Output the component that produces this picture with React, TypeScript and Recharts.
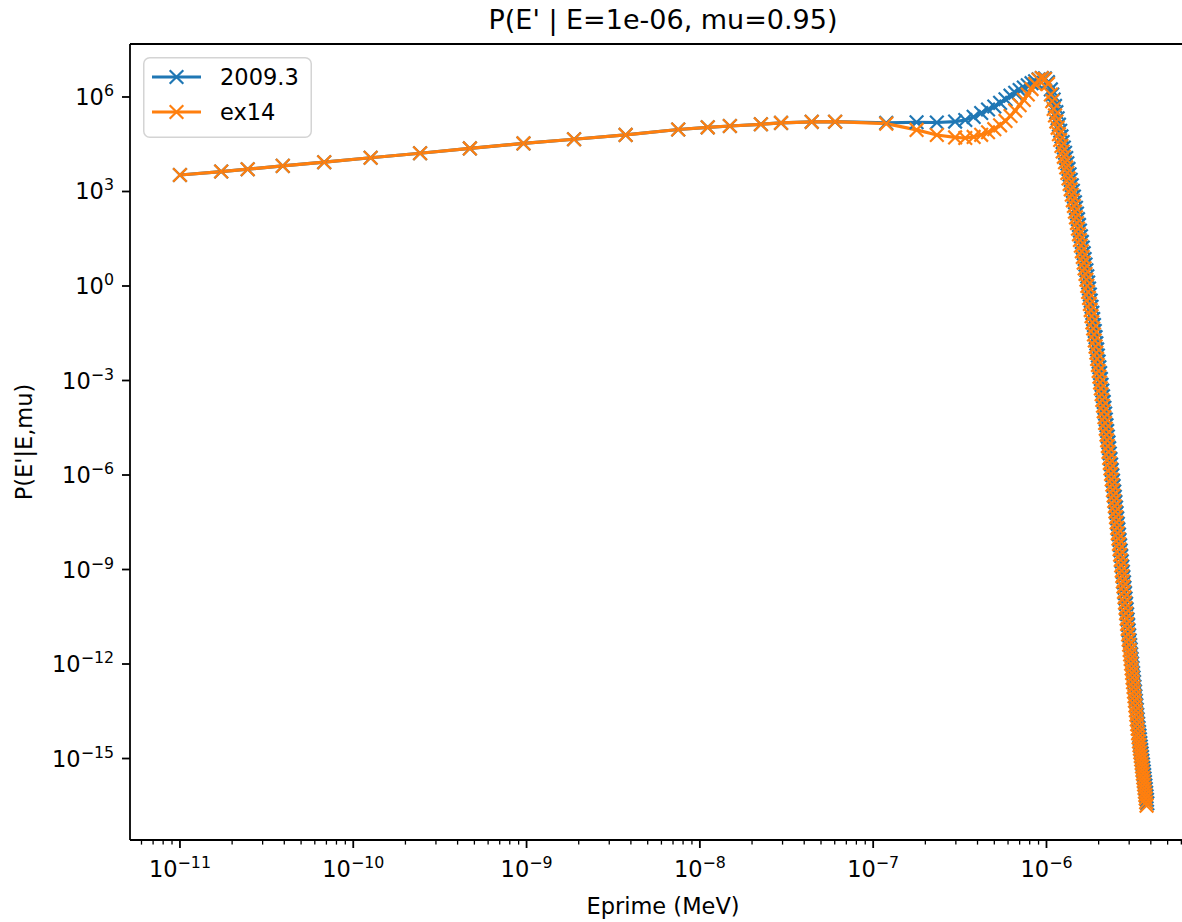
import { Label, Legend, Line, LineChart, ReferenceLine, XAxis, YAxis } from "recharts";

const FONT = "DejaVu Sans, sans-serif";
const CHART_W = 1222;
const CHART_H = 922;
const PLOT_RIGHT = 1196;

const X_DOMAIN: [number, number] = [5.15e-12, 7.29e-6];
const Y_DOMAIN: [number, number] = [2.59e-18, 4.81e7];

const seriesNames = ["2009.3", "ex14"];
const seriesColors = ["#1f77b4", "#ff7f0e"];

// outgoing energy E' (MeV)
const energy = [
  1e-11, 1.73e-11, 2.46e-11, 3.92e-11, 6.8e-11, 1.26e-10, 2.43e-10, 4.71e-10,
  9.6e-10, 1.88e-9, 3.73e-9, 7.5e-9, 1.11e-8, 1.49e-8, 2.25e-8, 2.94e-8,
  4.42e-8, 6.03e-8, 1.19e-7, 1.78e-7, 2.33e-7, 2.97e-7,
  0.34e-6, 0.38e-6, 0.42e-6, 0.46e-6, 0.5e-6, 0.54e-6, 0.58e-6, 0.62e-6, 0.66e-6, 0.7e-6,
  0.74e-6, 0.78e-6, 0.82e-6, 0.86e-6, 0.9e-6, 0.94e-6, 0.98e-6, 1.02e-6, 1.06e-6,
  1.08e-6, 1.1e-6, 1.12e-6, 1.14e-6, 1.16e-6, 1.18e-6, 1.2e-6, 1.22e-6, 1.24e-6, 1.26e-6,
  1.28e-6, 1.3e-6, 1.32e-6, 1.34e-6, 1.36e-6, 1.38e-6, 1.4e-6, 1.42e-6, 1.44e-6, 1.46e-6,
  1.48e-6, 1.5e-6, 1.52e-6, 1.54e-6, 1.56e-6, 1.58e-6, 1.6e-6, 1.62e-6, 1.64e-6, 1.66e-6,
  1.68e-6, 1.7e-6, 1.72e-6, 1.74e-6, 1.76e-6, 1.78e-6, 1.8e-6, 1.82e-6, 1.84e-6, 1.86e-6,
  1.88e-6, 1.9e-6, 1.92e-6, 1.94e-6, 1.96e-6, 1.98e-6, 2e-6, 2.02e-6, 2.04e-6, 2.06e-6,
  2.08e-6, 2.1e-6, 2.12e-6, 2.14e-6, 2.16e-6, 2.18e-6, 2.2e-6, 2.22e-6, 2.24e-6, 2.26e-6,
  2.28e-6, 2.3e-6, 2.32e-6, 2.34e-6, 2.36e-6, 2.38e-6, 2.4e-6, 2.42e-6, 2.44e-6, 2.46e-6,
  2.48e-6, 2.5e-6, 2.52e-6, 2.54e-6, 2.56e-6, 2.58e-6, 2.6e-6, 2.62e-6, 2.64e-6, 2.66e-6,
  2.68e-6, 2.7e-6, 2.72e-6, 2.74e-6, 2.76e-6, 2.78e-6, 2.8e-6, 2.82e-6, 2.84e-6, 2.86e-6,
  2.88e-6, 2.9e-6, 2.92e-6, 2.94e-6, 2.96e-6, 2.98e-6, 3e-6, 3.02e-6, 3.04e-6, 3.06e-6,
  3.08e-6, 3.1e-6, 3.12e-6, 3.14e-6, 3.16e-6, 3.18e-6, 3.2e-6, 3.22e-6, 3.24e-6, 3.26e-6,
  3.28e-6, 3.3e-6, 3.32e-6, 3.34e-6, 3.36e-6, 3.38e-6, 3.4e-6, 3.42e-6, 3.44e-6, 3.46e-6,
  3.48e-6, 3.5e-6, 3.52e-6, 3.54e-6, 3.56e-6, 3.58e-6, 3.6e-6, 3.62e-6, 3.64e-6, 3.66e-6,
  3.68e-6, 3.7e-6, 3.72e-6, 3.74e-6, 3.76e-6, 3.78e-6, 3.8e-6, 3.82e-6,
];

// P(E'|E,mu) for 2009.3
const p2009 = [
  3.34e3, 4.3e3, 5.1e3, 6.5e3, 8.5e3, 1.18e4, 1.64e4, 2.33e4,
  3.35e4, 4.55e4, 6.25e4, 9.3e4, 1.09e5, 1.2e5, 1.36e5, 1.5e5,
  1.63e5, 1.64e5, 1.5e5, 1.58e5, 1.55e5, 1.66e5,
  1.86e5, 2.34e5, 3.1e5, 4.0e5, 5.0e5, 6.5e5, 8.5e5, 1.1e6, 1.35e6, 1.66e6,
  2.0e6, 2.34e6, 2.75e6, 3.16e6, 3.63e6, 3.98e6, 3.89e6, 2.95e6, 1.74e6,
  1.2e6, 8.3e5, 5.2e5, 3.3e5, 2.1e5, 1.32e5, 8.5e4, 5.6e4, 3.7e4, 2.5e4,
  1.7e4, 1.15e4, 7.8e3, 5.2e3, 3.5e3, 2.34e3, 1.58e3, 1.05e3, 690, 457,
  302, 200, 132, 87, 57.5, 38, 25.1, 16.6, 11, 7.2,
  4.8, 3.16, 2.02, 1.29, 0.832, 0.537, 0.343, 0.219, 0.14, 0.089,
  0.0575, 0.0372, 0.0237, 0.0151, 9.7e-3, 6.2e-3, 3.98e-3, 2.63e-3, 1.72e-3, 1.12e-3,
  7.3e-4, 4.8e-4, 3.16e-4, 2.09e-4, 1.36e-4, 8.9e-5, 5.8e-5, 3.8e-5, 2.5e-5, 1.66e-5,
  1.08e-5, 7.1e-6, 4.8e-6, 3.24e-6, 2.16e-6, 1.45e-6, 9.8e-7, 6.6e-7, 4.5e-7, 3.0e-7,
  2.04e-7, 1.38e-7, 9.2e-8, 6.2e-8, 4.2e-8, 2.82e-8, 1.9e-8, 1.29e-8, 8.7e-9, 5.9e-9,
  4.0e-9, 2.7e-9, 1.82e-9, 1.23e-9, 8.4e-10, 5.8e-10, 3.9e-10, 2.63e-10, 1.78e-10, 1.2e-10,
  8.1e-11, 5.5e-11, 3.8e-11, 2.57e-11, 1.74e-11, 1.17e-11, 8.1e-12, 5.6e-12, 4.0e-12, 2.9e-12,
  2.04e-12, 1.45e-12, 1.04e-12, 7.4e-13, 5.2e-13, 3.7e-13, 2.66e-13, 1.9e-13, 1.35e-13, 9.5e-14,
  6.8e-14, 4.9e-14, 3.5e-14, 2.45e-14, 1.76e-14, 1.26e-14, 9.3e-15, 6.9e-15, 5.3e-15, 4.1e-15,
  3.1e-15, 2.4e-15, 1.86e-15, 1.45e-15, 1.11e-15, 8.5e-16, 6.5e-16, 5.0e-16, 3.9e-16, 3.0e-16,
  2.32e-16, 1.78e-16, 1.38e-16, 1.07e-16, 8.2e-17, 6.3e-17, 4.9e-17, 3.8e-17,
];

// P(E'|E,mu) for ex14
const pEx14 = [
  3.34e3, 4.3e3, 5.1e3, 6.5e3, 8.5e3, 1.18e4, 1.64e4, 2.33e4,
  3.35e4, 4.55e4, 6.25e4, 9.3e4, 1.09e5, 1.2e5, 1.36e5, 1.5e5,
  1.63e5, 1.64e5, 1.42e5, 9.0e4, 6.2e4, 5.2e4,
  5.0e4, 5.4e4, 6.3e4, 7.6e4, 9.5e4, 1.26e5, 1.74e5, 2.5e5, 3.7e5, 5.5e5,
  8.1e5, 1.2e6, 1.78e6, 2.6e6, 3.5e6, 4.0e6, 3.7e6, 2.6e6, 1.2e6,
  7.4e5, 4.2e5, 2.6e5, 1.66e5, 1.05e5, 6.6e4, 4.3e4, 2.8e4, 1.86e4, 1.26e4,
  8.5e3, 5.8e3, 3.9e3, 2.6e3, 1.74e3, 1.17e3, 790, 525, 347, 229,
  151, 100, 66, 43.6, 28.8, 19.1, 12.6, 8.3, 5.5, 3.63,
  2.4, 1.58, 1.01, 0.646, 0.417, 0.269, 0.172, 0.11, 0.07, 0.0447,
  0.0288, 0.0186, 0.0119, 7.6e-3, 4.84e-3, 3.1e-3, 2.0e-3, 1.32e-3, 8.6e-4, 5.6e-4,
  3.67e-4, 2.4e-4, 1.58e-4, 1.05e-4, 6.8e-5, 4.5e-5, 2.92e-5, 1.9e-5, 1.26e-5, 8.3e-6,
  5.4e-6, 3.5e-6, 2.4e-6, 1.62e-6, 1.08e-6, 7.2e-7, 4.9e-7, 3.3e-7, 2.24e-7, 1.51e-7,
  1.02e-7, 6.9e-8, 4.6e-8, 3.1e-8, 2.1e-8, 1.41e-8, 9.5e-9, 6.5e-9, 4.4e-9, 2.95e-9,
  2.0e-9, 1.35e-9, 9.1e-10, 6.2e-10, 4.2e-10, 2.9e-10, 1.95e-10, 1.32e-10, 8.9e-11, 6.0e-11,
  4.1e-11, 2.75e-11, 1.88e-11, 1.29e-11, 8.7e-12, 5.9e-12, 4.1e-12, 2.8e-12, 2.02e-12, 1.45e-12,
  1.02e-12, 7.2e-13, 5.2e-13, 3.7e-13, 2.63e-13, 1.86e-13, 1.33e-13, 9.5e-14, 6.8e-14, 4.8e-14,
  3.4e-14, 2.45e-14, 1.74e-14, 1.23e-14, 8.8e-15, 6.3e-15, 4.7e-15, 3.5e-15, 2.66e-15, 2.04e-15,
  1.57e-15, 1.2e-15, 9.3e-16, 7.2e-16, 5.6e-16, 4.3e-16, 3.3e-16, 2.5e-16, 1.95e-16, 1.51e-16,
  1.16e-16, 8.9e-17, 6.9e-17, 5.4e-17, 4.1e-17, 3.2e-17,
];

const xMajorTicks = [1e-11, 1e-10, 1e-9, 1e-8, 1e-7, 1e-6];
const yTicks = [1e6, 1e3, 1, 1e-3, 1e-6, 1e-9, 1e-12, 1e-15];

// minor ticks at 2..9 x 10^k inside the domain
const xMinorTicks = [-12, -11, -10, -9, -8, -7, -6]
  .flatMap((k) => [2, 3, 4, 5, 6, 7, 8, 9].map((m) => m * Math.pow(10, k)))
  .filter((v) => v > X_DOMAIN[0] && v < X_DOMAIN[1]);
const xTicks = [...xMajorTicks, ...xMinorTicks].sort((a, b) => a - b);

const data2009 = p2009.map((p, i) => ({ e: energy[i], p }));
const dataEx14 = pEx14.map((p, i) => ({ e: energy[i], p }));

function expOf(v: number) {
  return Math.round(Math.log10(v));
}

function isMajor(v: number) {
  return Math.abs(v / Math.pow(10, expOf(v)) - 1) < 1e-6;
}

function expText(v: number) {
  const e = expOf(v);
  return e < 0 ? `\u2212${-e}` : `${e}`;
}

function XTick(props: any) {
  const { x, y, payload } = props;
  const v = payload.value as number;
  const major = isMajor(v);
  return (
    <g>
      <line
        x1={x}
        x2={x}
        y1={y}
        y2={y + (major ? 8 : 4.6)}
        stroke="#000"
        strokeWidth={major ? 1.8 : 1.3}
      />
      {major ? (
        <text x={x} y={y + 37} textAnchor="middle" fontFamily={FONT} fontSize={22.5} fill="#000">
          10
          <tspan dy={-9} fontSize={15.8}>
            {expText(v)}
          </tspan>
        </text>
      ) : null}
    </g>
  );
}

function YTick(props: any) {
  const { x, y, payload } = props;
  const v = payload.value as number;
  return (
    <g>
      <line x1={x - 8} x2={x} y1={y} y2={y} stroke="#000" strokeWidth={1.8} />
      <text x={x - 16} y={y + 8} textAnchor="end" fontFamily={FONT} fontSize={22.5} fill="#000">
        10
        <tspan dy={-9} fontSize={15.8}>
          {expText(v)}
        </tspan>
      </text>
    </g>
  );
}

function XMarker({ cx, cy, color }: { cx: number; cy: number; color: string }) {
  const s = 6.8;
  return (
    <path
      d={`M${cx - s},${cy - s}L${cx + s},${cy + s}M${cx - s},${cy + s}L${cx + s},${cy - s}`}
      stroke={color}
      strokeWidth={2.2}
      fill="none"
    />
  );
}

function markerDot(color: string) {
  return (props: any) => {
    const { cx, cy, index } = props;
    if (cx == null || cy == null) return <g key={`m-${index}`} />;
    return (
      <g key={`m-${index}`}>
        <XMarker cx={cx} cy={cy} color={color} />
      </g>
    );
  };
}

function LegendBox() {
  return (
    <svg width={170} height={82}>
      <rect x={0.75} y={0.75} width={167.5} height={79.5} rx={6} fill="#fff" stroke="#d4d4d4" strokeWidth={1.5} />
      {seriesNames.map((name, i) => {
        const cy = 20 + i * 35;
        return (
          <g key={name}>
            <line x1={9} x2={58} y1={cy} y2={cy} stroke={seriesColors[i]} strokeWidth={3.2} />
            <XMarker cx={33.5} cy={cy} color={seriesColors[i]} />
            <text x={77} y={cy + 8} fontFamily={FONT} fontSize={22.5} fill="#000">
              {name}
            </text>
          </g>
        );
      })}
    </svg>
  );
}

export default function App() {
  return (
    <div
      style={{
        position: "absolute",
        left: 0,
        top: 0,
        width: 1182,
        height: 922,
        overflow: "hidden",
        background: "#fff",
      }}
    >
      <LineChart
        width={CHART_W}
        height={CHART_H}
        margin={{ top: 44, right: CHART_W - PLOT_RIGHT, bottom: 10, left: 10 }}
      >
        <XAxis
          xAxisId="main"
          dataKey="e"
          type="number"
          scale="log"
          domain={X_DOMAIN}
          allowDataOverflow
          ticks={xTicks}
          interval={0}
          tickSize={0}
          tickMargin={0}
          tickLine={false}
          tick={(p: any) => <XTick {...p} />}
          axisLine={{ stroke: "#000", strokeWidth: 1.8 }}
          height={72}
        >
          <Label
            content={(p: any) => {
              const vb = p.viewBox;
              return (
                <text x={vb.x + vb.width / 2} y={914} textAnchor="middle" fontFamily={FONT} fontSize={22.5} fill="#000">
                  Eprime (MeV)
                </text>
              );
            }}
          />
        </XAxis>
        <YAxis
          yAxisId="main"
          dataKey="p"
          type="number"
          scale="log"
          domain={Y_DOMAIN}
          allowDataOverflow
          ticks={yTicks}
          interval={0}
          tickSize={0}
          tickMargin={0}
          tickLine={false}
          tick={(p: any) => <YTick {...p} />}
          axisLine={{ stroke: "#000", strokeWidth: 1.8 }}
          width={120}
        >
          <Label
            content={(p: any) => {
              const vb = p.viewBox;
              const cy = vb.y + vb.height / 2;
              return (
                <text
                  x={32}
                  y={cy}
                  transform={`rotate(-90 32 ${cy})`}
                  textAnchor="middle"
                  fontFamily={FONT}
                  fontSize={22.5}
                  fill="#000"
                >
                  P(E'|E,mu)
                </text>
              );
            }}
          />
        </YAxis>
        {/* top spine + title */}
        <ReferenceLine
          xAxisId="main"
          yAxisId="main"
          y={Y_DOMAIN[1]}
          stroke="#000"
          strokeWidth={1.8}
          ifOverflow="visible"
          label={(p: any) => (
            <text x={663} y={29} textAnchor="middle" fontFamily={FONT} fontSize={27} fill="#000">
              P(E' | E=1e-06, mu=0.95)
            </text>
          )}
        />
        <Legend
          layout="vertical"
          align="center"
          verticalAlign="middle"
          wrapperStyle={{ left: 143, top: 57, width: 170, height: 82 }}
          content={() => <LegendBox />}
        />
        <Line
          xAxisId="main"
          yAxisId="main"
          data={data2009}
          dataKey="p"
          name={seriesNames[0]}
          type="linear"
          stroke={seriesColors[0]}
          strokeWidth={3.2}
          dot={markerDot(seriesColors[0])}
          activeDot={false}
          isAnimationActive={false}
        />
        <Line
          xAxisId="main"
          yAxisId="main"
          data={dataEx14}
          dataKey="p"
          name={seriesNames[1]}
          type="linear"
          stroke={seriesColors[1]}
          strokeWidth={3.2}
          dot={markerDot(seriesColors[1])}
          activeDot={false}
          isAnimationActive={false}
        />
      </LineChart>
    </div>
  );
}
